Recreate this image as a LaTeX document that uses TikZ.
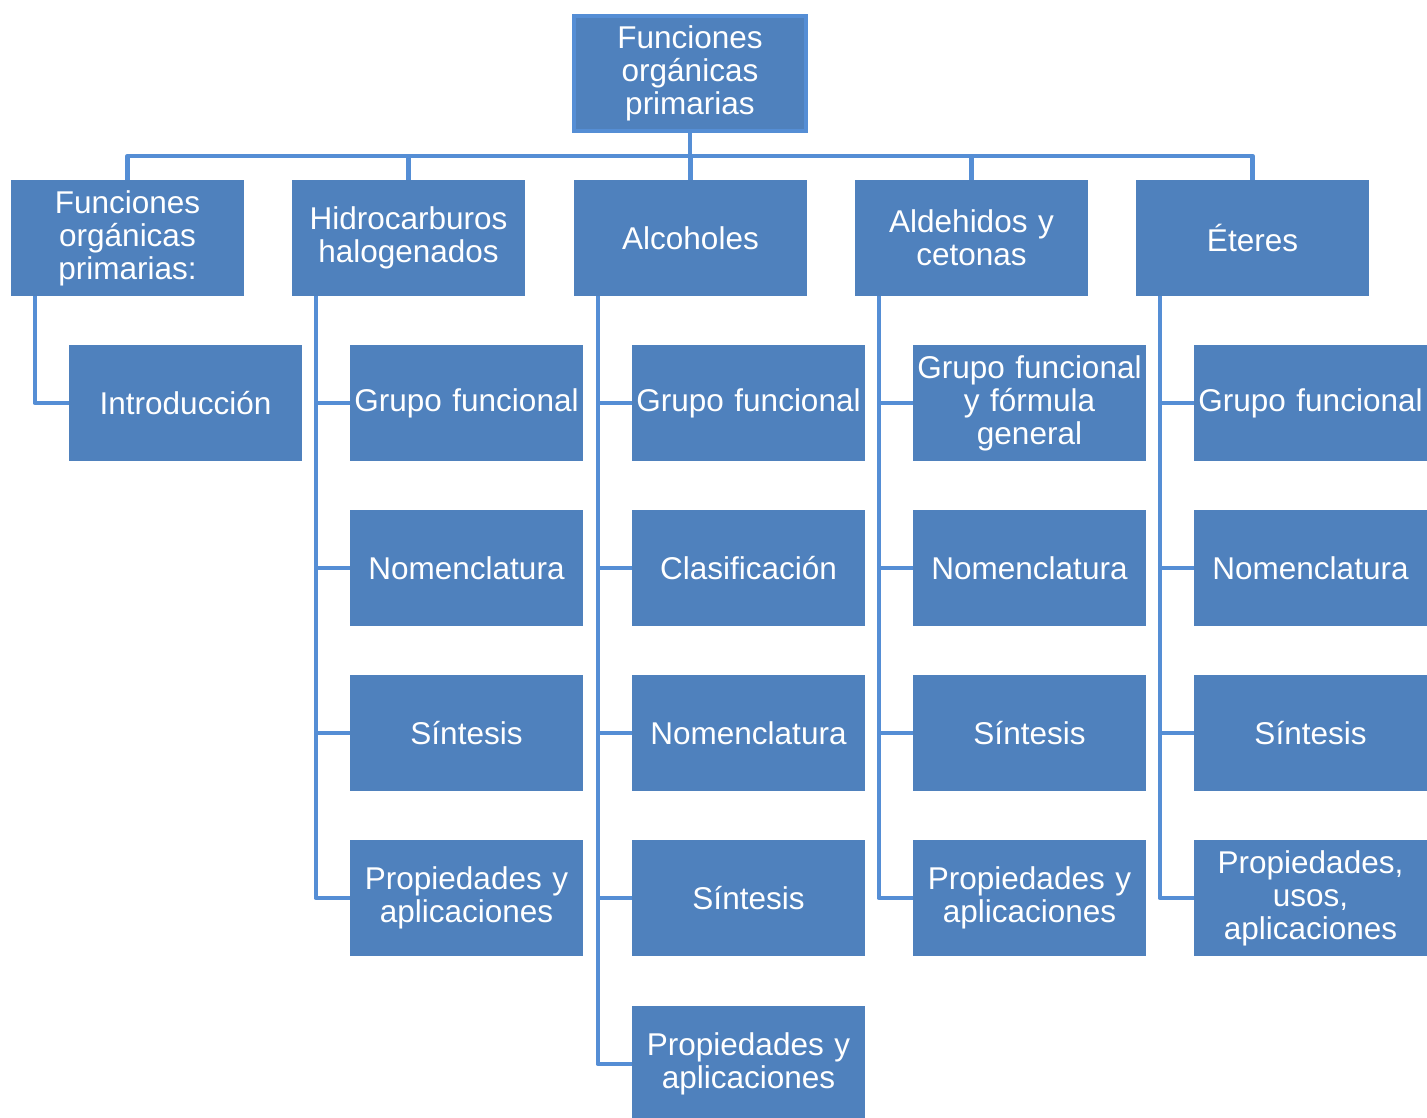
\documentclass[tikz,border=0pt]{standalone}
\usepackage{fontspec}
\setmainfont{Liberation Sans}
\definecolor{boxfill}{HTML}{4F81BD}
\definecolor{linecol}{HTML}{558ED5}
\begin{document}
\begin{tikzpicture}[x=1pt,y=-1pt,
  box/.style={fill=boxfill, draw=none, text=white, minimum width=233pt, minimum height=116pt,
    text width=228pt, align=center, inner sep=0pt, font=\fontsize{31.5}{33}\selectfont},
  rootbox/.style={box, draw=linecol, line width=4pt, minimum width=232pt, minimum height=115pt},
  conn/.style={draw=linecol, line width=4.5pt, line join=round}]
\useasboundingbox (0,0) rectangle (1427,1118);
\fill[white] (0,0) rectangle (1427,1118);

\node[rootbox] (root) at (690,73.5) {Funciones\\orgánicas\\primarias};

\node[box] (A) at (127.5,238) {Funciones\\orgánicas\\primarias:};
\node[box] (B) at (408.5,238) {Hidrocarburos\\halogenados};
\node[box] (C) at (690.5,238) {Alcoholes};
\node[box] (D) at (971.5,238) {Aldehidos y\\cetonas};
\node[box] (E) at (1252.5,238) {Éteres};

% column A
\node[box] (A1) at (185.5,403) {Introducción};
% column B
\node[box] (B1) at (466.5,403) {Grupo funcional};
\node[box] (B2) at (466.5,568) {Nomenclatura};
\node[box] (B3) at (466.5,733) {Síntesis};
\node[box] (B4) at (466.5,898) {Propiedades y\\aplicaciones};
% column C
\node[box] (C1) at (748.5,403) {Grupo funcional};
\node[box] (C2) at (748.5,568) {Clasificación};
\node[box] (C3) at (748.5,733) {Nomenclatura};
\node[box] (C4) at (748.5,898) {Síntesis};
\node[box] (C5) at (748.5,1064) {Propiedades y\\aplicaciones};
% column D
\node[box] (D1) at (1029.5,403) {Grupo funcional\\y fórmula\\general};
\node[box] (D2) at (1029.5,568) {Nomenclatura};
\node[box] (D3) at (1029.5,733) {Síntesis};
\node[box] (D4) at (1029.5,898) {Propiedades y\\aplicaciones};
% column E
\node[box] (E1) at (1310.5,403) {Grupo funcional};
\node[box] (E2) at (1310.5,568) {Nomenclatura};
\node[box] (E3) at (1310.5,733) {Síntesis};
\node[box] (E4) at (1310.5,898) {Propiedades,\\usos,\\aplicaciones};

% top connectors
\begin{scope}[on background layer/.style={}]
\foreach \n in {A,B,C,D,E}{
  \draw[conn] (root.south) -- ++(0,23) -| (\n.north);
}
\foreach \p/\c in {A/A1, B/B1, B/B2, B/B3, B/B4, C/C1, C/C2, C/C3, C/C4, C/C5,
                   D/D1, D/D2, D/D3, D/D4, E/E1, E/E2, E/E3, E/E4}{
  \draw[conn] (\p.south west) ++(24,0) |- (\c.west);
}
\end{scope}
\end{tikzpicture}
\end{document}
